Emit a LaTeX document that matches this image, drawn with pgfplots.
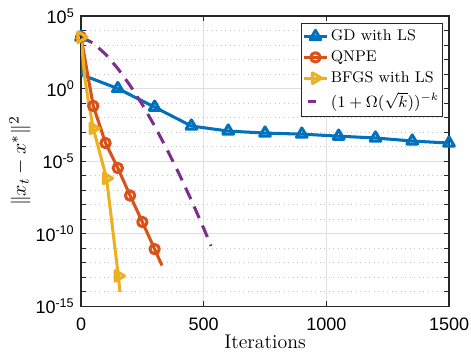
\documentclass[border=0pt]{standalone}
\usepackage{fontspec}
\usepackage{pgfplots}
\pgfplotsset{compat=1.18}
\newfontfamily\helv{Liberation Sans}
\definecolor{mblue}{rgb}{0,0.447,0.741}
\definecolor{morange}{rgb}{0.850,0.325,0.098}
\definecolor{myellow}{rgb}{0.929,0.694,0.125}
\definecolor{mpurple}{rgb}{0.494,0.184,0.556}
\pgfplotsset{
 mylegend/.style={legend image code/.code={\draw[#1, mark indices={2}] plot coordinates {(0pt,0pt) (6.4pt,0pt) (12.8pt,0pt)};}},
 purplelegend/.style={legend image code/.code={\draw[#1, solid] (2pt,0pt) -- (6.7pt,0pt);}},
}
\begin{document}
\begin{tikzpicture}
\begin{axis}[
 scale only axis, width=204.4pt, height=161.1pt,
 xmin=0, xmax=1500, ymin=1e-15, ymax=1e5, ymode=log,
 xtick={0,500,1000,1500}, xticklabels={0,500,1000,1500},
 ytick={1e-15,1e-10,1e-5,1,1e5},
 yticklabels={10\textsuperscript{-15},10\textsuperscript{-10},10\textsuperscript{-5},10\textsuperscript{0},10\textsuperscript{5}},
 minor ytick={1e-14,1e-13,1e-12,1e-11,1e-9,1e-8,1e-7,1e-6,1e-4,1e-3,1e-2,1e-1,1e1,1e2,1e3,1e4},
 tick label style={font=\fontsize{10}{12}\helv},
 xticklabel style={yshift=-2.8pt},
 tick align=inside,
 major tick length=2.6pt, minor tick length=2.6pt,
 axis line style={color=black!85, line width=0.6pt},
 every tick/.style={black!85, line width=0.5pt},
 xmajorgrids, ymajorgrids, yminorgrids,
 major grid style={gray!25, line width=0.5pt, solid},
 minor grid style={gray!45, line width=0.5pt, dotted},
 xlabel={Iterations}, ylabel={$\|x_t - x^*\|^2$},
 label style={font=\fontsize{11}{13}\selectfont},
 xlabel style={at={(axis description cs:0.5,0)}, anchor=base, yshift=-23.3pt},
 ylabel style={at={(axis description cs:-0.166,0.5)}, anchor=center},
 legend style={at={(axis description cs:0.9837,0.976)}, anchor=north east,
   font=\fontsize{8.6}{10.5}\selectfont, draw=black!85, line width=0.5pt,
   cells={anchor=west}, inner xsep=0.6pt, inner ysep=1.5pt,
   nodes={inner xsep=1.3pt}},
 mylegend,
 every axis plot/.append style={line width=1.7pt, line join=round},
]
\addplot[color=mblue, mark=triangle, mark size=3.4pt, mark options={solid},
  mark indices={1,3,4,5,6,7,8,9,10,11,12}] coordinates {
 (0,3.5e3) (6,8.5) (150,1.0) (300,5.2e-2) (450,2.6e-3) (600,1.17e-3) (750,8.5e-4)
 (900,7.2e-4) (1050,5.2e-4) (1200,3.9e-4) (1350,2.4e-4) (1500,1.74e-4)};
\addlegendentry{GD with LS}
\addplot[color=morange, mark=o, mark size=2.6pt, mark options={solid},
  mark indices={1,2,3,4,5,6,7}] coordinates {
 (0,3.5e3) (50,6.3e-2) (100,1.74e-4) (150,3.3e-6) (200,4.2e-8) (250,6.3e-10)
 (300,8.5e-12) (330,6.3e-13)};
\addlegendentry{QNPE}
\addplot[color=myellow, mark=triangle, mark size=3.4pt, mark options={solid, rotate=-90},
  mark indices={1,4,5,6}] coordinates {
 (0,3.5e3) (15,6.3) (30,0.126) (50,1.8e-3) (104,6.5e-7) (152,1.2e-13) (159,9.3e-15)};
\addlegendentry{BFGS with LS}
\addplot[color=mpurple, dash pattern=on 7pt off 4.5pt, purplelegend] coordinates {
 (0,3.5e3) (50,1.35e3) (100,234) (150,24) (200,1.62) (250,7.8e-2) (300,2.6e-3)
 (350,6.6e-5) (400,1.29e-6) (450,1.95e-8) (500,2.3e-10) (530,1.4e-11)};
\addlegendentry{$(1+\Omega(\sqrt{k}))^{-k}$}
\end{axis}
\pgfresetboundingbox
\path ([shift={(-45pt,-25.6pt)}]current axis.south west) rectangle ([shift={(12.2pt,8.9pt)}]current axis.north east);
\end{tikzpicture}
\end{document}
